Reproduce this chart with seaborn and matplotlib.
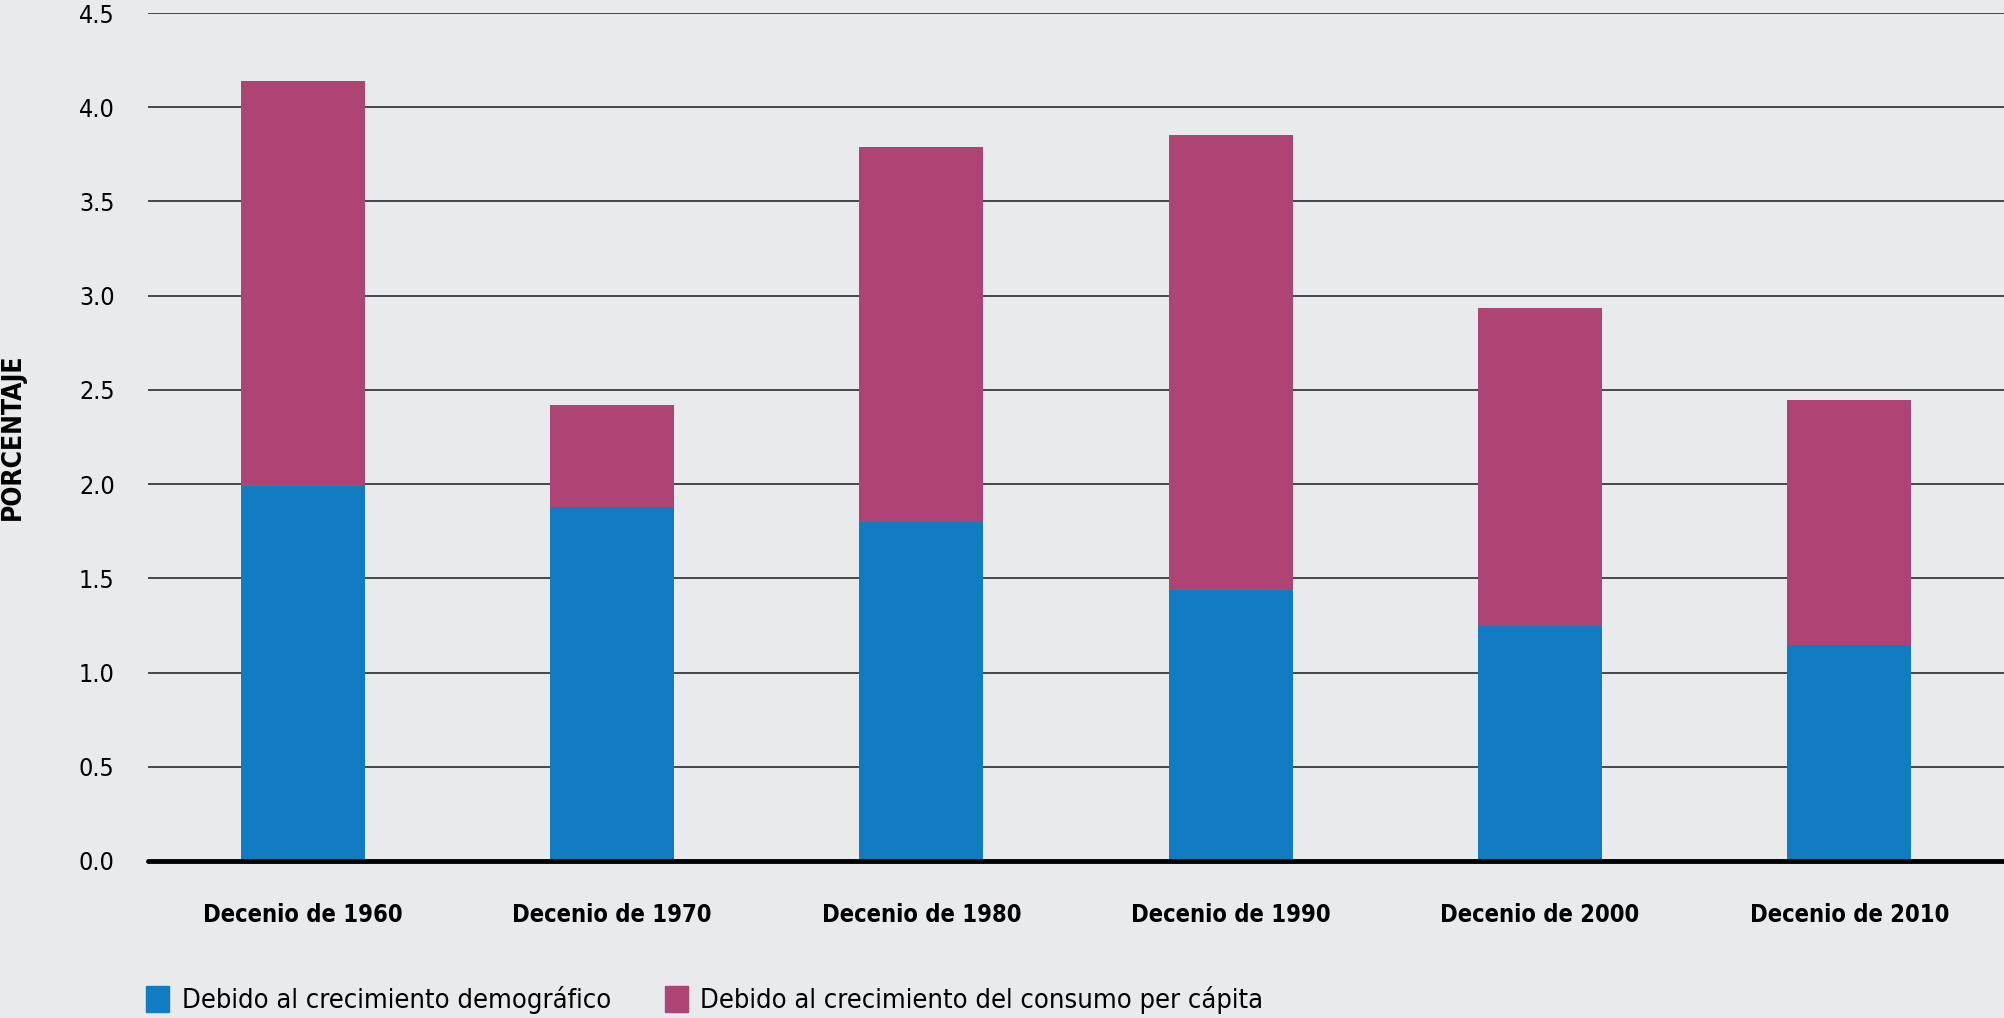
import numpy as np
import matplotlib.pyplot as plt
import seaborn as sns
from matplotlib.patches import Patch

decenios = ['Decenio de 1960', 'Decenio de 1970', 'Decenio de 1980',
            'Decenio de 1990', 'Decenio de 2000', 'Decenio de 2010']
demografico = [1.99, 1.88, 1.80, 1.44, 1.245, 1.145]
consumo = [2.15, 0.54, 1.99, 2.41, 1.69, 1.30]
total = [d + c for d, c in zip(demografico, consumo)]

bg = '#E9EAEC'
blue = '#127CC2'
magenta = '#AE4473'

sns.set_style('white')
plt.rcParams['font.family'] = ['DejaVu Sans']
plt.rcParams['font.stretch'] = 'condensed'
plt.rcParams['text.color'] = 'black'
plt.rcParams['xtick.color'] = 'black'
plt.rcParams['ytick.color'] = 'black'

fig = plt.figure(figsize=(20.04, 10.18), dpi=100, facecolor=bg)
W, H = 2004, 1018
ax = fig.add_axes([148 / W, 1 - 861 / H, (W - 148) / W, (861 - 13) / H])
ax.set_facecolor(bg)

# stacked: total first (per capita on top), then demographic part over it
sns.barplot(x=decenios, y=total, color=magenta, width=0.4, saturation=1,
            edgecolor='none', ax=ax)
sns.barplot(x=decenios, y=demografico, color=blue, width=0.4, saturation=1,
            edgecolor='none', ax=ax)

ax.set_xlim(-0.5, 5.5)
ax.set_ylim(0, 4.5)
ax.set_yticks(np.arange(0, 4.51, 0.5))
ax.set_yticklabels([f'{v:.1f}' for v in np.arange(0, 4.51, 0.5)], fontsize=18)
ax.set_axisbelow(True)
ax.yaxis.grid(True, color='#3a3a3a', linewidth=1.3)
ax.axhline(0, color='black', linewidth=3.5, zorder=5, clip_on=False)
for s in ax.spines.values():
    s.set_visible(False)
ax.tick_params(axis='y', length=0, pad=24)
ax.tick_params(axis='x', length=0, pad=30)
for lbl in ax.get_xticklabels():
    lbl.set_fontweight('bold')
    lbl.set_fontsize(17)
ax.set_xlabel('')
ax.set_ylabel('')

fig.text(13 / W, 1 - 437 / H, 'PORCENTAJE', rotation=90, ha='center', va='center',
         fontsize=19, fontweight='bold')

handles = [Patch(color=blue), Patch(color=magenta)]
labels = ['Debido al crecimiento demográfico', 'Debido al crecimiento del consumo per cápita']
fig.legend(handles, labels, loc='lower left', bbox_to_anchor=(122 / W, -0.02), ncol=2,
           frameon=False, fontsize=19.5, handlelength=0.85, handleheight=1.1,
           handletextpad=0.45, columnspacing=2.0)

fig.savefig('out.png', dpi=100, facecolor=bg)
